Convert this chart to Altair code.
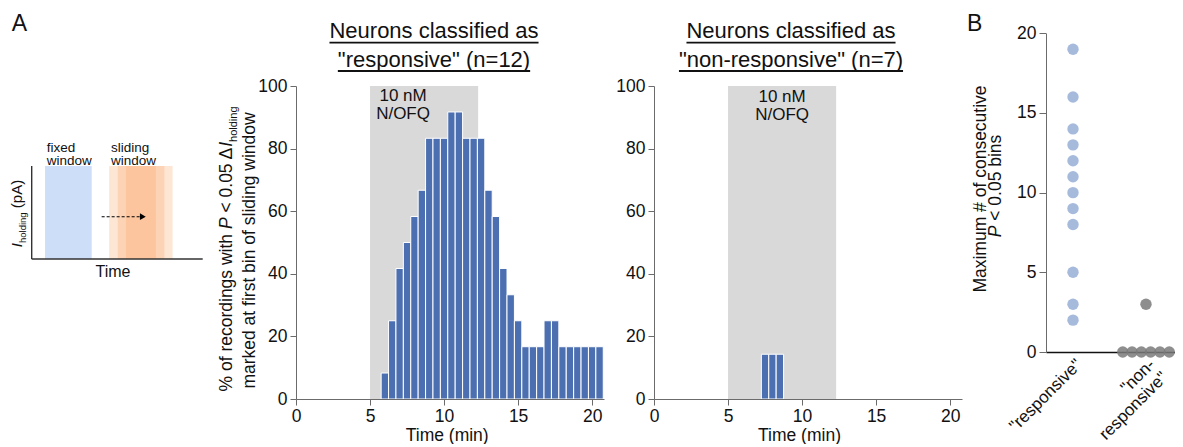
import altair as alt
import pandas as pd

FONT = "Liberation Sans"
INK = "#111111"
AXIS_GRAY = "#6b6b6b"
BAR_BLUE = "#4b6fb0"
SHADE = "#d9d9d9"
DOT_BLUE = "#a6badc"
DOT_GRAY = "#7a7a7a"

# ---------------- data ----------------
resp_time = [6.0, 6.5, 7.0, 7.5, 8.0, 8.5, 9.0, 9.5, 10.0, 10.5, 11.0, 11.5, 12.0, 12.5, 13.0,
             13.5, 14.0, 14.5, 15.0, 15.5, 16.0, 16.5, 17.0, 17.5, 18.0, 18.5, 19.0, 19.5, 20.0, 20.5]
resp_pct = [8.3, 25.0, 41.7, 50.0, 58.3, 66.7, 83.3, 83.3, 83.3, 91.7, 91.7, 83.3, 83.3, 83.3, 66.7,
            58.3, 41.7, 33.3, 25.0, 16.7, 16.7, 16.7, 25.0, 25.0, 16.7, 16.7, 16.7, 16.7, 16.7, 16.7]
nonresp_time = [7.5, 8.0, 8.5]
nonresp_pct = [14.3, 14.3, 14.3]
bin_width = 0.5
stim_window = [5.0, 12.3]
stim_label = ["10 nM", "N/OFQ"]
time_ticks = [0, 5, 10, 15, 20]
pct_ticks = [0, 20, 40, 60, 80, 100]

resp_runs = [19, 16, 14, 13, 12, 11, 10, 9, 8, 5, 3, 2]
nonresp_runs = [3, 0, 0, 0, 0, 0, 0]
run_ticks = [0, 5, 10, 15, 20]
group_names = ["responsive", "non-responsive"]
group_lines = [['"responsive"'], ['"non-', 'responsive"']]

titles_resp = ["Neurons classified as", '"responsive" (n=12)']
titles_non = ["Neurons classified as", '"non-responsive" (n=7)']

# schematic (arbitrary time / current units)
sch_fixed = [0.78, 3.51]
sch_slide_starts = [4.53, 5.03, 5.51]
sch_win_len = 2.73
sch_arrow = [4.09, 6.45]
sch_arrow_tip = 6.5
sch_arrow_level = 4.55

# ---------------- layout helpers ----------------
SCH_W, H1_W, H2_W, B_W = 288, 358, 392, 129
PLOT_W = 308
HIST_H, HIST_TOP = 391, 78
B_H, B_TOP = 344, 25.3

ARIAL = {' ': 278, '"': 355, '#': 556, '%': 889, '(': 333, ')': 333, '-': 333, '.': 278, '/': 278,
         '<': 584, '=': 584, 'A': 667, 'B': 667, 'F': 611, 'I': 278, 'M': 833, 'N': 722, 'O': 778,
         'P': 667, 'Q': 778, 'T': 611, 'a': 556, 'b': 556, 'c': 500, 'd': 556, 'e': 556, 'f': 278,
         'g': 556, 'h': 556, 'i': 222, 'k': 500, 'l': 222, 'm': 833, 'n': 556, 'o': 556, 'p': 556,
         'r': 333, 's': 500, 't': 278, 'u': 556, 'v': 500, 'w': 722, 'x': 500, 'y': 500, 'Δ': 668}


def tw(s, size):
    return sum(ARIAL.get(c, 556) for c in s) * size / 1000.0


one = pd.DataFrame({"k": [0]})


def label(text, x, y, size=17.5, style="normal", angle=0, align="left", baseline="alphabetic",
          color=INK):
    return alt.Chart(one).mark_text(text=text, font=FONT, fontSize=size, fontStyle=style,
                                    angle=angle, align=align, baseline=baseline,
                                    color=color).encode(x=alt.value(x), y=alt.value(y))


def rotated_run(parts, x_base, y_center):
    """parts: (text, size, style, dx); text laid out bottom-to-top."""
    total = sum(tw(t, s) for t, s, _, _ in parts)
    y = y_center + total / 2
    layers = []
    for t, s, st, dx in parts:
        lead = len(t) - len(t.lstrip(" "))
        core = t.strip(" ")
        layers.append(label(core, x_base + dx, y - tw(" " * lead, s), size=s, style=st,
                            angle=270, align="left"))
        y -= tw(t, s)
    return layers


def underline(cx, y, text, size):
    w = tw(text, size)
    return alt.Chart(one).mark_rule(color=INK, strokeWidth=1.8).encode(
        x=alt.value(cx - w / 2), x2=alt.value(cx + w / 2), y=alt.value(y))


# ---------------- schematic ----------------
sx_s = alt.Scale(domain=[0, 10], range=[23.7, 194.7], nice=False, zero=False)
sy_s = alt.Scale(domain=[0, 10], range=[251, 158], nice=False, zero=False)

fixed_df = pd.DataFrame({"x0": [sch_fixed[0]], "x1": [sch_fixed[1]], "y0": [0], "y1": [10]})
slide_df = pd.DataFrame({"x0": sch_slide_starts,
                         "x1": [s + sch_win_len for s in sch_slide_starts],
                         "y0": [0, 0, 0], "y1": [10, 10, 10]})
axes_df = pd.DataFrame({"x0": [0, 0], "x1": [0, 10], "y0": [0, 0], "y1": [10, 0]})
arrow_df = pd.DataFrame({"x0": [sch_arrow[0]], "x1": [sch_arrow[1]], "y0": [sch_arrow_level]})
tip_df = pd.DataFrame({"x0": [sch_arrow_tip], "y0": [sch_arrow_level]})


def sch_enc(ch):
    return ch.encode(x=alt.X("x0:Q", scale=sx_s, axis=None), x2="x1",
                     y=alt.Y("y0:Q", scale=sy_s, axis=None), y2="y1")


sch_layers = [
    sch_enc(alt.Chart(fixed_df).mark_rect(color="#cddff8")),
    sch_enc(alt.Chart(slide_df).mark_rect(color="#fb9a58", opacity=0.25)),
    sch_enc(alt.Chart(axes_df).mark_rule(color="#333333", strokeWidth=1.4)),
    alt.Chart(arrow_df).mark_rule(color="#000000", strokeWidth=1.1, strokeDash=[3, 2]).encode(
        x=alt.X("x0:Q", scale=sx_s, axis=None), x2="x1",
        y=alt.Y("y0:Q", scale=sy_s, axis=None)),
    alt.Chart(tip_df).mark_point(shape="triangle-right", filled=True, size=45, color="#000000",
                                 opacity=1).encode(
        x=alt.X("x0:Q", scale=sx_s, axis=None), y=alt.Y("y0:Q", scale=sy_s, axis=None)),
    label("A", 3.7, 22.7, size=23),
    label("fixed", 38.7, 143.7, size=13.5),
    label("window", 38.7, 157, size=13.5),
    label("sliding", 103, 143.7, size=13.5),
    label("window", 103, 157, size=13.5),
    label("Time", 105, 268.7, size=16, align="center"),
]
sch_layers += rotated_run([("I", 15, "italic", 0), ("holding", 9.5, "normal", 4),
                           (" (pA)", 15, "normal", 0)], 14, 205.5)
schematic = alt.layer(*sch_layers).properties(width=SCH_W, height=HIST_H)


# ---------------- histograms ----------------
def hist_panel(times, pcts, view_w, titles, ann_x, ann_y, title_cx, xtitle_x, with_ytitle):
    df = pd.DataFrame({"t": times, "pct": pcts})
    df["t0"] = df["t"] - bin_width / 2
    df["t1"] = df["t"] + bin_width / 2
    df["base"] = 0
    sx = alt.Scale(domain=[0, 20.8], range=[0, PLOT_W], nice=False, zero=False)
    sy = alt.Scale(domain=[0, 100], range=[HIST_H, HIST_TOP], nice=False)
    xaxis = alt.Axis(values=time_ticks, title="Time (min)", grid=False, tickSize=6,
                     labelPadding=2, titlePadding=2, labelFontSize=17.5, titleFontSize=17.5,
                     domainColor=AXIS_GRAY, tickColor=AXIS_GRAY, labelFlush=False,
                     labelOverlap=False, titleX=xtitle_x, titleAlign="center", zindex=1)
    yaxis = alt.Axis(values=pct_ticks, title=None, grid=False, tickSize=6, labelPadding=3,
                     labelFontSize=17.5, domainColor=AXIS_GRAY, tickColor=AXIS_GRAY,
                     labelOverlap=False, zindex=1)
    stim = pd.DataFrame({"s": [stim_window[0]], "e": [stim_window[1]], "lo": [0], "hi": [100]})
    shade = alt.Chart(stim).mark_rect(color=SHADE).encode(
        x=alt.X("s:Q", scale=sx, axis=xaxis), x2="e",
        y=alt.Y("lo:Q", scale=sy, axis=yaxis), y2="hi")
    bars = alt.Chart(df).mark_rect(color=BAR_BLUE, stroke="white", strokeWidth=1).encode(
        x=alt.X("t0:Q", scale=sx, axis=xaxis), x2="t1",
        y=alt.Y("pct:Q", scale=sy, axis=yaxis), y2="base")
    layers = [shade, bars]
    for i, line in enumerate(stim_label):
        layers.append(alt.Chart(pd.DataFrame({"x": [ann_x]})).mark_text(
            text=line, font=FONT, fontSize=17, color=INK, align="center",
            baseline="alphabetic").encode(x=alt.X("x:Q", scale=sx, axis=xaxis),
                                          y=alt.value(ann_y[i])))
    layers += [label(titles[0], title_cx, 30.3, size=22, align="center"),
               label(titles[1], title_cx, 58.7, size=22, align="center"),
               underline(title_cx, 34.6, titles[0], 22),
               underline(title_cx, 63.0, titles[1], 22)]
    if with_ytitle:
        layers += rotated_run([("% of recordings with ", 17.5, "normal", 0),
                               ("P", 17.5, "italic", 0),
                               (" < 0.05 Δ", 17.5, "normal", 0),
                               ("I", 17.5, "italic", 0),
                               ("holding", 11, "normal", 5.5)], -64.5, 241)
        layers.append(label("marked at first bin of sliding window", -40.8, 242.5,
                            angle=270, align="center"))
    return alt.layer(*layers).properties(width=view_w, height=HIST_H)


hist1 = hist_panel(resp_time, resp_pct, H1_W, titles_resp, 7.23, [93.2, 111.2], 138, 150.7, True)
hist2 = hist_panel(nonresp_time, nonresp_pct, H2_W, titles_non, 8.65, [94.2, 112.2], 137, 145,
                   False)

# ---------------- panel B ----------------
PX_PER_UNIT = 73.0
CAT0_PX = 27.0
DOT_GAP = 9.3
rows = []
for gi, (gname, vals) in enumerate(zip(group_names, [resp_runs, nonresp_runs])):
    counts = {}
    for v in vals:
        counts[v] = counts.get(v, 0) + 1
    seen = {}
    for v in vals:
        n = counts[v]
        k = seen.get(v, 0)
        seen[v] = k + 1
        off = (k - (n - 1) / 2) * DOT_GAP / PX_PER_UNIT
        rows.append({"group": gname, "runs": v, "xpos": gi + off})
df_b = pd.DataFrame(rows)

label_expr = "datum.value == 0 ? {} : {}".format(
    "'" + group_lines[0][0] + "'",
    "[" + ", ".join("'" + s + "'" for s in group_lines[1]) + "]")

sxb = alt.Scale(domain=[-CAT0_PX / PX_PER_UNIT, (B_W - CAT0_PX) / PX_PER_UNIT], range=[0, B_W],
                nice=False, zero=False)
syb = alt.Scale(domain=[0, 20], range=[B_H, B_TOP], nice=False)
xaxis_b = alt.Axis(values=[0, 1], labelExpr=label_expr, labelAngle=315, labelAlign="right",
                   labelBaseline="top", labelPadding=4, labelFontSize=17, labelLineHeight=18,
                   ticks=False, grid=False, title=None, domainColor="#111111", domainWidth=1.3,
                   labelOverlap=False, labelFlush=False, labelBound=False)
yaxis_b = alt.Axis(values=run_ticks, title=None, grid=False, tickSize=7, labelPadding=3,
                   labelFontSize=17.5, domainColor=AXIS_GRAY, tickColor=AXIS_GRAY,
                   labelOverlap=False)
dots = alt.Chart(df_b).mark_circle(size=130).encode(
    x=alt.X("xpos:Q", scale=sxb, axis=xaxis_b),
    y=alt.Y("runs:Q", scale=syb, axis=yaxis_b),
    color=alt.Color("group:N", scale=alt.Scale(domain=group_names, range=[DOT_BLUE, DOT_GRAY]),
                    legend=None),
    opacity=alt.Opacity("group:N", scale=alt.Scale(domain=group_names, range=[1.0, 0.85]),
                        legend=None))
b_layers = [dots, label("B", -79, 23, size=23),
            label("Maximum # of consecutive", -60, 181, angle=270, align="center")]
b_layers += rotated_run([("P", 17.5, "italic", 0), (" < 0.05 bins", 17.5, "normal", 0)],
                        -45, 178)
panel_b = alt.layer(*b_layers).properties(width=B_W, height=B_H)

chart = alt.hconcat(schematic, hist1, hist2, panel_b, spacing=0, bounds="flush").properties(
    padding=0
).configure(font=FONT).configure_view(strokeWidth=0).configure_axis(
    labelFont=FONT, titleFont=FONT, labelColor=INK, titleColor=INK, titleFontWeight="normal")

chart.save("out.html", embed_options={"renderer": "svg", "actions": False})
